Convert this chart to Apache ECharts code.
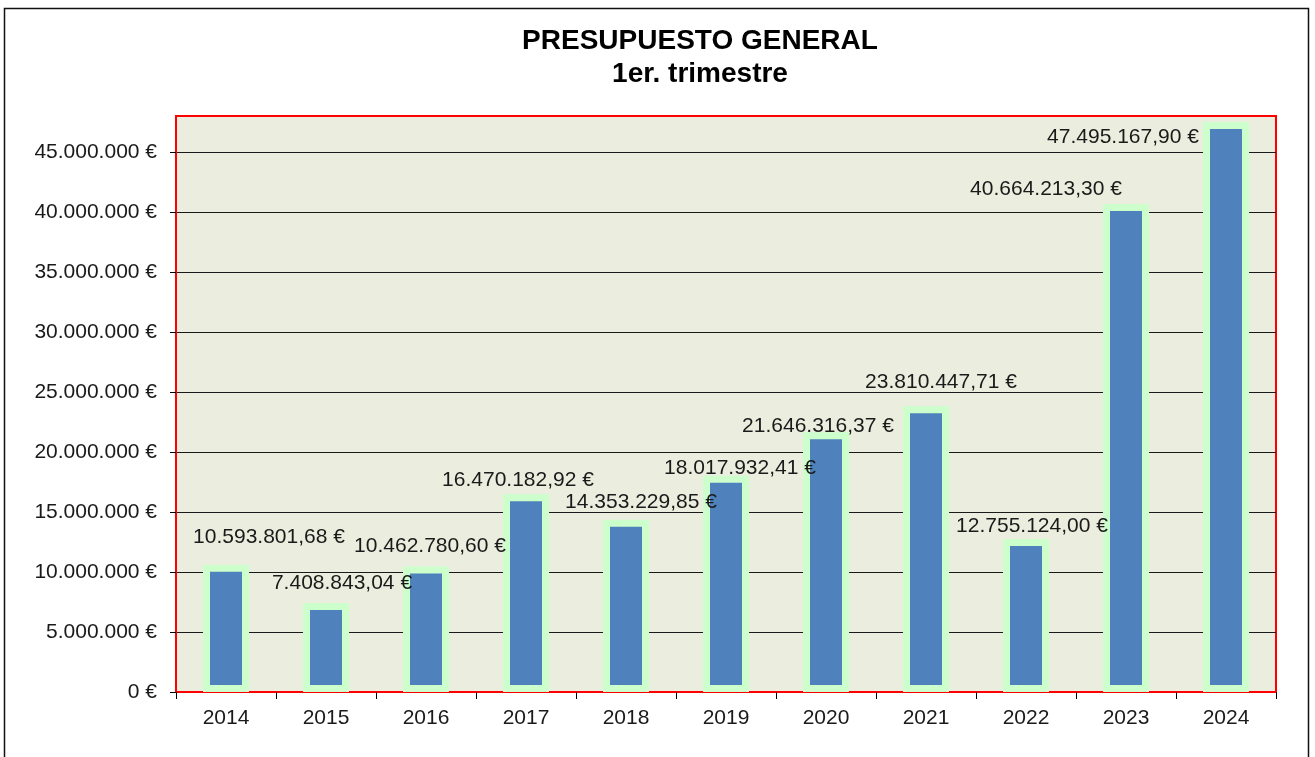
<!DOCTYPE html>
<html lang="es">
<head>
  <meta charset="UTF-8">
  <title>Presupuesto general - 1er. trimestre</title>
  <style>
    body {
      margin: 0;
      background-color: #fff;
    }
    #chart {
      width: 1315px;
      height: 757px;
    }
  </style>
  <script src="https://cdn.jsdelivr.net/npm/echarts@6/dist/echarts.min.js"></script>
</head>
<body>
  <div id="chart"></div>

  <script>
    // datos
    var years = ['2014', '2015', '2016', '2017', '2018', '2019', '2020', '2021', '2022', '2023', '2024'];
    var budget = [10593801.68, 7408843.04, 10462780.60, 16470182.92, 14353229.85, 18017932.41,
                  21646316.37, 23810447.71, 12755124.00, 40664213.30, 47495167.90];
    // desplazamiento de cada etiqueta respecto a su barra (como en la hoja original)
    var labelShift = [[43, -14], [16, -6], [4, -7], [-8, -1], [15, -4], [14, 6],
                      [-8, 7], [15, -11], [6, 1], [-80, -1], [-103, 29]];
    var yMin = 0;
    var yMax = 48000000;
    var yStep = 5000000;

    function miles(n) {
      var s = String(Math.trunc(n));
      return s.replace(/\B(?=(\d{3})+(?!\d))/g, '.');
    }
    function euros(v) {
      var parts = v.toFixed(2).split('.');
      return miles(Number(parts[0])) + ',' + parts[1] + ' €';
    }

    var chart = echarts.init(document.getElementById('chart'));

    var barData = budget.map(function (v, i) {
      return {
        value: v,
        label: { offset: labelShift[i] }
      };
    });

    chart.setOption({
      animation: false,
      textStyle: { fontFamily: 'Liberation Sans, Arial, sans-serif' },
      title: {
        text: 'PRESUPUESTO GENERAL\n1er. trimestre',
        left: 700,
        top: 25,
        textAlign: 'center',
        padding: 0,
        textStyle: {
          fontSize: 28,
          fontWeight: 'bold',
          color: '#000',
          lineHeight: 33
        }
      },
      graphic: [{
        type: 'rect',
        shape: { x: 4.5, y: 8.5, width: 1304, height: 770 },
        style: { fill: 'none', stroke: '#111', lineWidth: 1.5 },
        silent: true
      }],
      grid: {
        left: 176,
        right: 39,
        top: 116,
        bottom: 65,
        show: true,
        backgroundColor: '#EBEEDE',
        borderColor: '#FF0000',
        borderWidth: 2
      },
      xAxis: {
        type: 'category',
        data: years,
        axisLine: { lineStyle: { color: '#FF0000', width: 2 } },
        axisTick: { show: true, length: 7, lineStyle: { color: '#000' } },
        axisLabel: { color: '#1a1a1a', fontSize: 21, margin: 16 }
      },
      yAxis: {
        type: 'value',
        min: yMin,
        max: yMax,
        interval: yStep,
        axisLine: { show: true, lineStyle: { color: '#FF0000', width: 2 } },
        axisTick: { show: true, length: 6, lineStyle: { color: '#000' } },
        axisLabel: {
          color: '#1a1a1a',
          fontSize: 21,
          margin: 19,
          showMaxLabel: false,
          formatter: function (v) {
            if (v % yStep !== 0) return '';
            return miles(v) + ' €';
          }
        },
        splitLine: {
          show: true,
          showMinLine: false,
          showMaxLine: false,
          lineStyle: { color: '#1a1a1a', width: 1 }
        }
      },
      series: [{
        type: 'bar',
        data: barData,
        barWidth: 46,
        itemStyle: {
          color: '#4F81BD',
          borderColor: '#CCFFCC',
          borderWidth: 7
        },
        label: {
          show: true,
          position: 'top',
          distance: 3,
          color: '#1a1a1a',
          fontSize: 21,
          formatter: function (p) { return euros(p.value); }
        }
      }]
    });

    window.addEventListener('resize', function () {
      chart.resize();
    });
  </script>
</body>
</html>
